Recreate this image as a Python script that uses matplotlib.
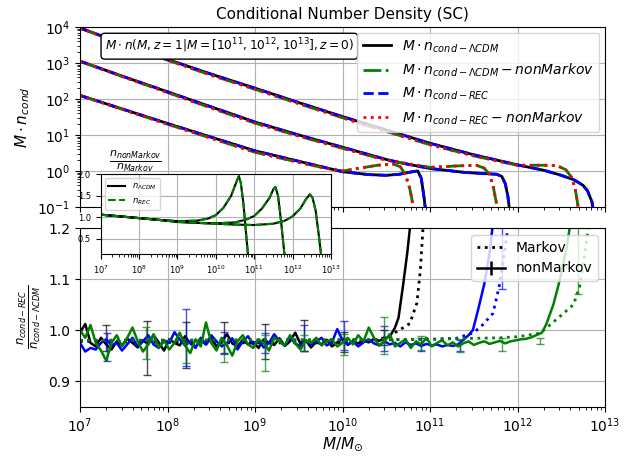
import numpy as np
import matplotlib
matplotlib.use("Agg")
import matplotlib.pyplot as plt
from matplotlib.lines import Line2D

# ---------------- top panel data: log10(M) and log10(M*n) ----------------
lm_13 = [7.0, 7.5, 8.0, 8.5, 9.0, 9.5, 10.0, 10.5, 11.0, 11.5, 12.0, 12.3, 12.5, 12.65, 12.75, 12.8, 12.85, 12.88]
mn_13 = [3.97, 3.53, 3.10, 2.69, 2.30, 1.90, 1.51, 1.14, 0.77, 0.45, 0.17, 0.02, -0.12, -0.25, -0.40, -0.55, -0.85, -1.3]
lm_13nm = [7.0, 7.5, 8.0, 8.5, 9.0, 9.5, 10.0, 10.5, 11.0, 11.5, 12.0, 12.3, 12.45, 12.55, 12.62, 12.66, 12.69, 12.71]
mn_13nm = [3.97, 3.52, 3.08, 2.66, 2.27, 1.87, 1.48, 1.10, 0.73, 0.42, 0.16, 0.16, 0.15, 0.04, -0.18, -0.5, -0.95, -1.3]

lm_12 = [7.0, 7.5, 8.0, 8.5, 9.0, 9.5, 10.0, 10.5, 10.66, 11.0, 11.4, 11.6, 11.76, 11.82, 11.86, 11.89, 11.92]
mn_12 = [3.05, 2.62, 2.20, 1.78, 1.36, 1.00, 0.66, 0.32, 0.23, 0.07, -0.04, -0.07, -0.09, -0.15, -0.35, -0.7, -1.3]
lm_12nm = [7.0, 7.5, 8.0, 8.5, 9.0, 9.5, 10.0, 10.5, 11.0, 11.3, 11.53, 11.62, 11.68, 11.72, 11.76, 11.78]
mn_12nm = [3.05, 2.61, 2.18, 1.75, 1.33, 0.97, 0.63, 0.30, 0.10, 0.14, 0.16, 0.08, -0.1, -0.4, -0.9, -1.3]

lm_11 = [7.0, 7.5, 8.0, 8.5, 9.0, 9.5, 10.0, 10.3, 10.5, 10.65, 10.8, 10.86, 10.9, 10.93, 10.96]
mn_11 = [2.10, 1.71, 1.32, 0.94, 0.56, 0.27, -0.02, -0.10, -0.12, -0.09, -0.02, 0.0, -0.2, -0.7, -1.3]
lm_11nm = [7.0, 7.5, 8.0, 8.5, 9.0, 9.5, 9.8, 10.0, 10.2, 10.4, 10.58, 10.66, 10.72, 10.77, 10.81, 10.83]
mn_11nm = [2.10, 1.70, 1.30, 0.91, 0.52, 0.24, 0.08, 0.0, 0.08, 0.16, 0.19, 0.12, -0.1, -0.5, -1.0, -1.3]

# ---------------- inset data: n_nonMarkov / n_Markov ----------------
lr_11 = [7.0, 7.5, 8.0, 8.5, 9.0, 9.5, 9.8, 10.0, 10.2, 10.4, 10.55, 10.6, 10.65, 10.72, 10.78, 10.84]
r_11 = [1.06, 1.02, 0.98, 0.94, 0.91, 0.92, 0.97, 1.05, 1.22, 1.50, 1.85, 1.95, 1.80, 1.30, 0.70, 0.10]
lr_12 = [7.0, 7.5, 8.0, 8.5, 9.0, 9.5, 10.0, 10.5, 10.8, 11.0, 11.2, 11.4, 11.5, 11.55, 11.62, 11.7, 11.78, 11.82]
r_12 = [1.06, 1.02, 0.98, 0.94, 0.90, 0.87, 0.86, 0.88, 0.95, 1.03, 1.20, 1.45, 1.65, 1.70, 1.50, 0.90, 0.20, 0.0]
lr_13 = [7.0, 7.5, 8.0, 8.5, 9.0, 9.5, 10.0, 10.5, 11.0, 11.5, 11.8, 12.0, 12.2, 12.35, 12.45, 12.52, 12.6, 12.68, 12.76]
r_13 = [1.06, 1.02, 0.98, 0.94, 0.89, 0.87, 0.85, 0.83, 0.82, 0.85, 0.92, 1.02, 1.20, 1.42, 1.53, 1.45, 1.15, 0.60, 0.0]

# ---------------- lower panel: Markov ratios (dotted) ----------------
lmk_11 = [7.0, 8.0, 9.0, 10.0, 10.3, 10.5, 10.65, 10.77, 10.85, 10.89, 10.92, 10.95]
mk_11 = [0.978, 0.976, 0.975, 0.975, 0.978, 0.986, 1.000, 1.013, 1.053, 1.118, 1.200, 1.30]
lmk_12 = [7.0, 10.0, 11.0, 11.3, 11.5, 11.6, 11.72, 11.79, 11.85, 11.89, 11.92]
mk_12 = [0.980, 0.980, 0.982, 0.984, 0.995, 1.010, 1.033, 1.085, 1.150, 1.200, 1.30]
lmk_13 = [7.0, 11.0, 11.8, 12.0, 12.26, 12.48, 12.64, 12.71, 12.77, 12.81, 12.84]
mk_13 = [0.980, 0.982, 0.985, 0.987, 0.994, 1.026, 1.050, 1.085, 1.150, 1.200, 1.30]

# ---------------- lower panel: nonMarkov ratios (solid, noisy) ----------------
step_nm = 0.06
nm_11_noise = [0.995, 1.012, 0.975, 0.968, 0.985, 0.972, 0.962, 0.978, 0.970, 0.983,
               0.975, 0.966, 0.980, 0.972, 0.990, 0.976, 0.960, 0.982, 0.975, 0.970,
               0.988, 0.974, 0.967, 0.980, 0.972, 0.985, 0.968, 0.978, 0.992, 0.974,
               0.968, 0.981, 0.972, 0.977, 0.965, 0.982, 0.975, 0.971, 0.984, 0.969,
               0.978, 0.995, 0.973, 0.980, 0.966, 0.977, 0.972, 0.981, 0.968, 0.976,
               0.983, 0.971, 0.978, 0.974, 0.980, 0.976, 0.983, 0.979, 0.984, 0.987]
lnm_11_rise = [10.6, 10.64, 10.69, 10.74, 10.78, 10.83]
nm_11_rise = [1.005, 1.024, 1.085, 1.151, 1.215, 1.40]

nm_12_noise = [0.975, 0.958, 0.965, 0.962, 0.975, 0.982, 0.970, 0.975, 0.960, 0.972,
               0.985, 0.968, 0.978, 0.990, 0.972, 0.965, 0.980, 0.975, 0.996, 0.982,
               0.970, 0.978, 0.965, 0.985, 0.972, 0.990, 0.978, 0.968, 0.975, 0.984,
               0.962, 0.978, 0.988, 0.972, 0.980, 0.966, 0.975, 0.992, 0.978, 0.970,
               0.985, 0.974, 0.968, 0.980, 0.972, 0.978, 0.985, 0.970, 0.976, 1.002,
               0.980, 0.972, 0.978, 0.968, 0.976, 0.982, 0.974, 0.970, 0.978, 0.972,
               0.975, 0.968, 0.976, 0.971, 0.974, 0.969, 0.973, 0.970, 0.972, 0.968,
               0.971, 0.969, 0.972]
lnm_12_rise = [11.44, 11.49, 11.55, 11.62, 11.68, 11.72, 11.80]
nm_12_rise = [0.990, 1.000, 1.040, 1.090, 1.150, 1.210, 1.40]

nm_13_noise = [1.000, 0.985, 1.010, 0.975, 0.960, 0.940, 0.975, 0.990, 0.968, 0.985,
               1.005, 0.978, 0.958, 0.972, 0.992, 0.965, 0.980, 0.962, 0.975, 0.995,
               0.970, 0.955, 0.982, 0.968, 1.015, 0.975, 0.960, 0.985, 0.970, 0.950,
               0.978, 0.990, 0.972, 0.965, 0.982, 0.975, 0.960, 0.985, 0.978, 0.970,
               0.990, 0.974, 0.962, 0.980, 0.975, 0.985, 0.970, 0.978, 0.982, 0.968,
               0.975, 0.985, 0.972, 0.990, 0.978, 1.005, 0.985, 0.970, 0.978, 0.992,
               0.968, 0.975, 0.982, 0.965, 0.978, 0.972, 0.985, 0.968, 0.975, 0.980,
               0.970, 0.976, 0.968, 0.974, 0.978, 0.971, 0.975, 0.978, 0.973, 0.976,
               0.979, 0.974, 0.978, 0.980, 0.982, 0.983, 0.986]
lnm_13_rise = [12.28, 12.33, 12.41, 12.48, 12.56, 12.61, 12.70]
nm_13_rise = [0.995, 1.012, 1.050, 1.096, 1.160, 1.215, 1.35]

# error bars (log10 M, centre, half-width)
eb_11_lm = [7.30, 7.76, 8.21, 8.65, 9.11, 9.56, 10.02, 10.47]
eb_11_c = [0.985, 0.965, 0.970, 0.985, 0.978, 0.990, 0.977, 0.985]
eb_11_e = [0.025, 0.053, 0.045, 0.030, 0.034, 0.030, 0.020, 0.015]
eb_12_lm = [7.31, 8.21, 8.65, 9.11, 9.56, 10.02, 10.47, 10.90, 11.34, 11.82]
eb_12_c = [0.967, 0.985, 0.975, 0.975, 0.985, 0.990, 0.984, 0.972, 0.970, 1.35]
eb_12_e = [0.027, 0.056, 0.022, 0.020, 0.025, 0.028, 0.024, 0.012, 0.010, 0.27]
eb_13_lm = [7.75, 8.21, 8.65, 9.11, 9.56, 10.02, 10.47, 10.90, 11.34, 11.82, 12.26, 12.69]
eb_13_c = [0.975, 0.955, 0.955, 0.955, 0.975, 0.972, 0.990, 0.975, 0.970, 0.972, 0.979, 1.30]
eb_13_e = [0.031, 0.020, 0.018, 0.035, 0.015, 0.020, 0.036, 0.014, 0.012, 0.012, 0.006, 0.23]

W, H = 633, 457
fig = plt.figure(figsize=(W / 100, H / 100), dpi=100)
ax1 = fig.add_axes([80 / W, 1 - 207 / H, 525 / W, 180 / H])
ax2 = fig.add_axes([80 / W, 1 - 406.7 / H, 525 / W, 178.7 / H])
axin = fig.add_axes([100.7 / W, 1 - 254 / H, 230.3 / W, 80 / H])

def M(a):
    return 10 ** np.asarray(a)

# ---- top panel ----
first = True
for lm, mn, lmn, mnn in [(lm_13, mn_13, lm_13nm, mn_13nm),
                         (lm_12, mn_12, lm_12nm, mn_12nm),
                         (lm_11, mn_11, lm_11nm, mn_11nm)]:
    ax1.plot(M(lm), M(mn), color='k', lw=2, ls='-',
             label=r'$M\cdot n_{cond-\Lambda CDM}$' if first else None)
    ax1.plot(M(lmn), M(mnn), color='g', lw=2, ls='-.',
             label=r'$M\cdot n_{cond-\Lambda CDM}-nonMarkov$' if first else None)
    ax1.plot(M(lm), M(mn), color='b', lw=2, ls='--',
             label=r'$M\cdot n_{cond-REC}$' if first else None)
    ax1.plot(M(lmn), M(mnn), color='r', lw=2, ls=':',
             label=r'$M\cdot n_{cond-REC}-nonMarkov$' if first else None)
    first = False
ax1.set_xscale('log')
ax1.set_yscale('log')
ax1.set_xlim(1e7, 1e13)
ax1.set_ylim(1e-1, 1e4)
ax1.grid(True)
ax1.tick_params(labelbottom=False)
ax1.set_ylabel(r'$M\cdot n_{cond}$', fontsize=11)
ax1.set_title('Conditional Number Density (SC)', fontsize=11)
ax1.legend(loc='upper right', fontsize=10, borderaxespad=0.4)
ax1.text(0.047, 0.945, r'$M\cdot n(M,z=1|M=[10^{11},10^{12},10^{13}],z=0)$',
         transform=ax1.transAxes, fontsize=8.7, va='top', ha='left',
         bbox=dict(boxstyle='round', fc='white', ec='black'))

# ---- lower panel ----
cols = ['k', 'b', 'g']
noises = [nm_11_noise, nm_12_noise, nm_13_noise]
rises_x = [lnm_11_rise, lnm_12_rise, lnm_13_rise]
rises_y = [nm_11_rise, nm_12_rise, nm_13_rise]
mk_x = [lmk_11, lmk_12, lmk_13]
mk_y = [mk_11, mk_12, mk_13]
ebs = [(eb_11_lm, eb_11_c, eb_11_e), (eb_12_lm, eb_12_c, eb_12_e), (eb_13_lm, eb_13_c, eb_13_e)]
for c, nz, rx, ry, mx, my, eb in zip(cols, noises, rises_x, rises_y, mk_x, mk_y, ebs):
    lx = 7.0 + step_nm * np.arange(len(nz))
    xs = np.concatenate([lx, rx])
    ys = np.concatenate([nz, ry])
    ax2.plot(M(mx), my, color=c, ls=':', lw=2)
    ax2.plot(M(xs), ys, color=c, ls='-', lw=1.8)
    ax2.errorbar(M(eb[0]), eb[1], yerr=eb[2], fmt='none', ecolor=c,
                 elinewidth=1, capsize=3, alpha=0.7)
ax2.set_xscale('log')
ax2.set_xlim(1e7, 1e13)
ax2.set_ylim(0.85, 1.2)
ax2.set_yticks([0.9, 1.0, 1.1, 1.2])
ax2.grid(True)
ax2.set_xlabel(r'$M/M_{\odot}$', fontsize=11, labelpad=0)
ax2.set_ylabel(r'$\frac{n_{cond-REC}}{n_{cond-\Lambda CDM}}$', fontsize=12)
h1 = Line2D([], [], color='k', ls=':', lw=2)
h2 = ax2.errorbar([], [], yerr=[], color='k', capsize=5, lw=1.8)
ax2.legend([h1, h2], ['Markov', 'nonMarkov'], loc='upper right', fontsize=10)

# ---- inset ----
for lr, rr in [(lr_11, r_11), (lr_12, r_12), (lr_13, r_13)]:
    axin.plot(M(lr), rr, color='k', lw=1.5, ls='-')
    axin.plot(M(lr), rr, color='g', lw=1.5, ls='--')
axin.set_xscale('log')
axin.set_xlim(1e7, 1e13)
axin.set_ylim(0.15, 2.0)
axin.set_yticks([0.5, 1.0, 1.5, 2.0])
axin.grid(True)
axin.tick_params(labelsize=6)
axin.legend([Line2D([], [], color='k', lw=1.5), Line2D([], [], color='g', lw=1.5, ls='--')],
            [r'$n_{\Lambda CDM}$', r'$n_{REC}$'], loc='upper left', fontsize=6)
fig.text(135 / W, 1 - 161 / H, r'$\frac{n_{nonMarkov}}{n_{Markov}}$', fontsize=11.5,
         ha='center', va='center')

fig.savefig('out.png', dpi=100)
